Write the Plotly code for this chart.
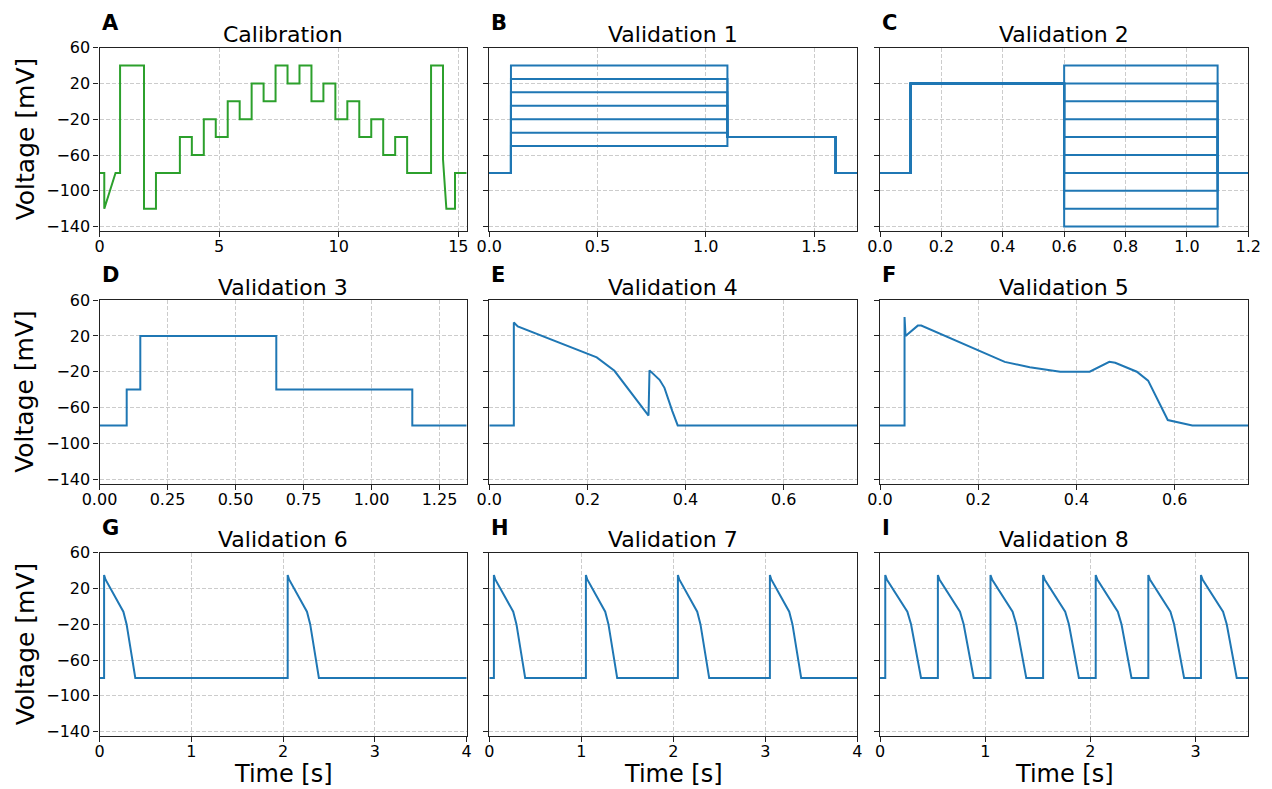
import plotly.graph_objects as go

# ---------------- data ----------------
calib_t = [0, 0.2, 0.2, 0.67, 0.86, 0.86, 1.86, 1.86, 2.36, 2.36, 3.36, 3.36, 3.86, 3.86,
           4.36, 4.36, 4.86, 4.86, 5.36, 5.36, 5.86, 5.86, 6.36, 6.36, 6.86, 6.86, 7.36, 7.36,
           7.86, 7.86, 8.36, 8.36, 8.86, 8.86, 9.36, 9.36, 9.86, 9.86, 10.36, 10.36, 10.86, 10.86,
           11.36, 11.36, 11.86, 11.86, 12.36, 12.36, 12.86, 12.86, 13.86, 13.86, 14.36, 14.36,
           14.5, 14.86, 14.86, 15.35]
calib_v = [-80, -80, -120, -80, -80, 40, 40, -120, -120, -80, -80, -40, -40, -60, -60, -20,
           -20, -40, -40, 0, 0, -20, -20, 20, 20, 0, 0, 40, 40, 20, 20, 40, 40, 0, 0, 20, 20,
           -20, -20, 0, 0, -40, -40, -20, -20, -60, -60, -40, -40, -80, -80, 40, 40, -65, -120,
           -120, -80, -80]

# Validation 1: family of step levels
v1_levels = [40, 25, 10, -5, -20, -35, -50]
v1_t = [0, 0.1, 0.1, 1.1, 1.1, 1.6, 1.6, 1.7]
v1_hold, v1_tail = -80, -40

# Validation 2: prepulse to +20 then family of step levels
v2_levels = [40, 20, 0, -20, -40, -60, -80, -100, -120, -140]
v2_t = [0, 0.1, 0.1, 0.6, 0.6, 1.1, 1.1, 1.2]
v2_hold, v2_pre = -80, 20

v3_t = [0, 0.1, 0.1, 0.15, 0.15, 0.65, 0.65, 1.15, 1.15, 1.35]
v3_v = [-80, -80, -40, -40, 20, 20, -40, -40, -80, -80]

v4_t = [0, 0.05, 0.05, 0.058, 0.219, 0.255, 0.3245, 0.3265, 0.347, 0.357, 0.373, 0.384, 0.75]
v4_v = [-80, -80, 35, 30.5, -4, -19, -69, -18.5, -29, -38, -64, -80, -80]

v5_t = [0, 0.05, 0.05, 0.052, 0.077, 0.084, 0.254, 0.305, 0.367, 0.427, 0.467, 0.479,
        0.523, 0.546, 0.586, 0.636, 0.75]
v5_v = [-80, -80, 41, 20, 31.5, 31.5, -9, -15, -20, -20, -9, -10, -20, -30, -74, -80, -80]

v6_t = [0, 0.05, 0.05, 0.065, 0.26, 0.295, 0.39,
        2.05, 2.05, 2.065, 2.26, 2.295, 2.39, 4.0]
v6_v = [-80, -80, 35, 30, -6, -20, -80,
        -80, 35, 30, -6, -20, -80, -80]

v7_t = [0, 0.05, 0.05, 0.065, 0.26, 0.295, 0.39,
        1.05, 1.05, 1.065, 1.26, 1.295, 1.39,
        2.05, 2.05, 2.065, 2.26, 2.295, 2.39,
        3.05, 3.05, 3.065, 3.26, 3.295, 3.39, 4.0]
v7_v = [-80, -80, 35, 30, -6, -20, -80,
        -80, 35, 30, -6, -20, -80,
        -80, 35, 30, -6, -20, -80,
        -80, 35, 30, -6, -20, -80, -80]

v8_t = [0, 0.05, 0.05, 0.065, 0.26, 0.295, 0.39,
        0.55, 0.55, 0.565, 0.76, 0.795, 0.89,
        1.05, 1.05, 1.065, 1.26, 1.295, 1.39,
        1.55, 1.55, 1.565, 1.76, 1.795, 1.89,
        2.05, 2.05, 2.065, 2.26, 2.295, 2.39,
        2.55, 2.55, 2.565, 2.76, 2.795, 2.89,
        3.05, 3.05, 3.065, 3.26, 3.295, 3.39, 3.5]
v8_v = [-80, -80, 35, 30, -6, -20, -80,
        -80, 35, 30, -6, -20, -80,
        -80, 35, 30, -6, -20, -80,
        -80, 35, 30, -6, -20, -80,
        -80, 35, 30, -6, -20, -80,
        -80, 35, 30, -6, -20, -80,
        -80, 35, 30, -6, -20, -80, -80]

titles = ["Calibration", "Validation 1", "Validation 2", "Validation 3", "Validation 4",
          "Validation 5", "Validation 6", "Validation 7", "Validation 8"]
letters = ["A", "B", "C", "D", "E", "F", "G", "H", "I"]
x_ranges = [[0, 15.35], [0, 1.7], [0, 1.2], [0, 1.35], [0, 0.75], [0, 0.75], [0, 4], [0, 4], [0, 3.5]]
x_ticks = [[0, 5, 10, 15], [0, 0.5, 1.0, 1.5], [0, 0.2, 0.4, 0.6, 0.8, 1.0, 1.2],
           [0, 0.25, 0.5, 0.75, 1.0, 1.25], [0, 0.2, 0.4, 0.6], [0, 0.2, 0.4, 0.6],
           [0, 1, 2, 3, 4], [0, 1, 2, 3, 4], [0, 1, 2, 3]]
x_formats = ["d", ".1f", ".1f", ".2f", ".1f", ".1f", "d", "d", "d"]
y_ticks = [-140, -100, -60, -20, 20, 60]
y_range = [-145, 60]
y_label = "Voltage [mV]"
x_label = "Time [s]"

# ---------------- layout ----------------
W, H = 1272, 789
FONT = "DejaVu Sans"
GREEN = "#2ca02c"
BLUE = "#1f77b4"
col_px = [(99.5, 466.7), (489.3, 857.3), (880.0, 1248.3)]
row_top_px = [47.6, 300.1, 552.6]
row_h_px = 183.5

fig = go.Figure()

def ax_name(i, kind):
    return kind if i == 0 else f"{kind}{i + 1}"

def add(i, t, v, color=BLUE):
    fig.add_trace(go.Scatter(x=t, y=v, mode="lines", line=dict(color=color, width=2),
                             xaxis=("x" if i == 0 else f"x{i+1}"),
                             yaxis=("y" if i == 0 else f"y{i+1}"),
                             showlegend=False, hoverinfo="skip"))

add(0, calib_t, calib_v, GREEN)
for L in v1_levels:
    add(1, v1_t, [v1_hold, v1_hold, L, L, v1_tail, v1_tail, v1_hold, v1_hold])
for L in v2_levels:
    add(2, v2_t, [v2_hold, v2_hold, v2_pre, v2_pre, L, L, v2_hold, v2_hold])
add(3, v3_t, v3_v)
add(4, v4_t, v4_v)
add(5, v5_t, v5_v)
add(6, v6_t, v6_v)
add(7, v7_t, v7_v)
add(8, v8_t, v8_v)

annotations = []
for i in range(9):
    r, c = divmod(i, 3)
    x0, x1 = col_px[c]
    top = row_top_px[r]
    bot = top + row_h_px
    common = dict(showline=True, mirror=True, linecolor="#222", linewidth=1.2,
                  ticks="outside", ticklen=5, tickwidth=1.2, tickcolor="#222",
                  showgrid=True, gridcolor="#cccccc", gridwidth=1, griddash="4px,2px",
                  zeroline=False, automargin=False,
                  tickfont=dict(family=FONT, size=16, color="black"))
    xa = dict(domain=[x0 / W, x1 / W], range=x_ranges[i], anchor=ax_name(i, "y"),
              tickmode="array", tickvals=x_ticks[i], tickformat=x_formats[i],
              ticklabelstandoff=-4, **common)
    ya = dict(domain=[1 - bot / H, 1 - top / H], range=y_range, anchor=ax_name(i, "x"),
              tickmode="array", tickvals=y_ticks, showticklabels=(c == 0), **common)
    fig.layout[("xaxis" if i == 0 else f"xaxis{i+1}")] = xa
    fig.layout[("yaxis" if i == 0 else f"yaxis{i+1}")] = ya

    # title
    annotations.append(dict(text=titles[i], x=(x0 + x1) / 2 / W, y=1 - (top - 13) / H,
                            xref="paper", yref="paper", xanchor="center", yanchor="middle",
                            showarrow=False, font=dict(family=FONT, size=22, color="black")))
    # panel letter
    annotations.append(dict(text=f"<b>{letters[i]}</b>", x=x0 / W, y=1 - (top - 25) / H,
                            xref="paper", yref="paper", xanchor="left", yanchor="middle",
                            showarrow=False, font=dict(family=FONT, size=21, color="black")))
    if c == 0:
        annotations.append(dict(text=y_label, x=25 / W, y=1 - (top + row_h_px / 2) / H,
                                xref="paper", yref="paper", xanchor="center", yanchor="middle",
                                textangle=-90, showarrow=False,
                                font=dict(family=FONT, size=25, color="black")))
    if r == 2:
        annotations.append(dict(text=x_label, x=(x0 + x1) / 2 / W, y=1 - 773.5 / H,
                                xref="paper", yref="paper", xanchor="center", yanchor="middle",
                                showarrow=False, borderpad=0,
                                font=dict(family=FONT, size=24, color="black")))

fig.update_layout(width=W, height=H, margin=dict(l=0, r=0, t=0, b=0, pad=0),
                  paper_bgcolor="white", plot_bgcolor="white",
                  annotations=annotations, font=dict(family=FONT, color="black"))

fig.write_html("out.html", config={"displayModeBar": False},
               post_script="document.body.style.margin='0';document.body.style.overflow='hidden';")
